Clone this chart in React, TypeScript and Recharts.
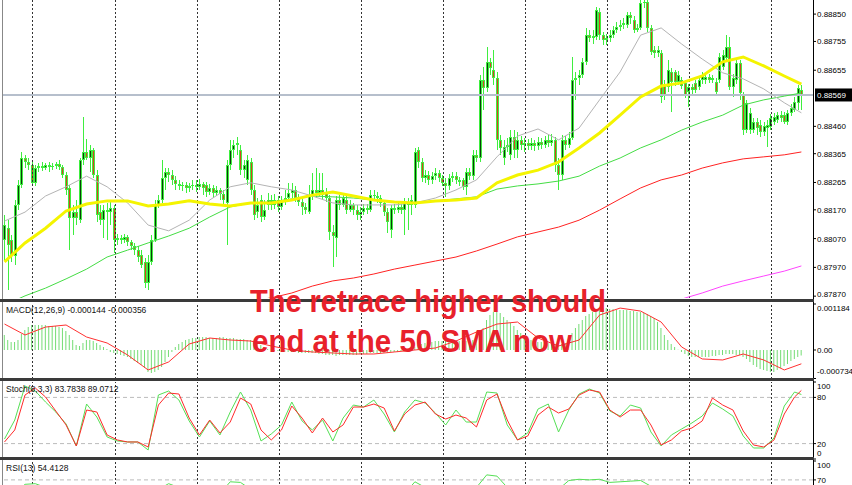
import { Bar, ComposedChart, Line, ReferenceLine, XAxis, YAxis } from "recharts"

// H1 candles, prices in points (1e-5)
const opens = [
  88065, 88106, 88065, 88009, 88187, 88257, 88350, 88336, 88326, 88264, 88315, 88322, 88315, 88326, 88319, 88322, 88329, 88319, 88291, 88246,
  88141, 88162, 88134, 88343, 88371, 88350, 88378, 88291, 88162, 88134, 88169, 88162, 88176, 88065, 88072, 88065, 88076, 88058, 88044, 88030,
  88013, 87989, 87916, 87989, 88065, 88187, 88204, 88280, 88301, 88291, 88274, 88260, 88253, 88257, 88246, 88253, 88257, 88250, 88260, 88257,
  88232, 88246, 88229, 88239, 88225, 88194, 88326, 88378, 88395, 88378, 88308, 88274, 88336, 88239, 88162, 88204, 88145, 88187, 88204, 88187,
  88204, 88180, 88204, 88211, 88229, 88239, 88211, 88197, 88180, 88162, 88221, 88239, 88229, 88239, 88232, 88211, 88093, 88072, 88204, 88187,
  88204, 88169, 88187, 88169, 88152, 88162, 88176, 88169, 88221, 88218, 88211, 88194, 88162, 88100, 88176, 88169, 88180, 88169, 88197, 88187,
  88187, 88378, 88336, 88280, 88291, 88274, 88287, 88298, 88280, 88264, 88253, 88280, 88287, 88274, 88274, 88250, 88301, 88287, 88361, 88350,
  88621, 88593, 88684, 88656, 88628, 88413, 88350, 88389, 88361, 88423, 88378, 88413, 88395, 88403, 88392, 88403, 88392, 88406, 88395, 88413,
  88403, 88413, 88326, 88291, 88413, 88395, 88419, 88621, 88628, 88638, 88684, 88777, 88767, 88771, 88857, 88777, 88760, 88767, 88777, 88795,
  88806, 88812, 88812, 88847, 88830, 88795, 88802, 88889, 88892, 88802, 88725, 88715, 88715, 88604, 88597, 88649, 88649, 88614, 88621, 88611,
  88579, 88597, 88611, 88597, 88621, 88621, 88632, 88621, 88614, 88621, 88667, 88697, 88736, 88597, 88621, 88680, 88569, 88447, 88447, 88447,
  88475, 88465, 88440, 88454, 88458, 88475, 88482, 88499, 88499, 88475, 88507, 88517, 88542, 88586,
]
const highs = [
  88152, 88134, 88083, 88204, 88274, 88371, 88361, 88350, 88343, 88326, 88333, 88336, 88333, 88336, 88333, 88336, 88343, 88326, 88301, 88257,
  88187, 88204, 88350, 88493, 88416, 88395, 88385, 88308, 88187, 88187, 88194, 88197, 88187, 88086, 88083, 88086, 88083, 88065, 88055, 88044,
  88030, 88002, 88013, 88083, 88204, 88221, 88343, 88315, 88315, 88308, 88287, 88274, 88267, 88267, 88264, 88274, 88274, 88277, 88267, 88267,
  88260, 88257, 88253, 88246, 88239, 88343, 88413, 88413, 88423, 88395, 88343, 88361, 88350, 88257, 88211, 88221, 88204, 88229, 88221, 88225,
  88218, 88218, 88239, 88264, 88264, 88253, 88225, 88211, 88194, 88257, 88298, 88315, 88298, 88298, 88246, 88221, 88117, 88218, 88221, 88225,
  88218, 88204, 88194, 88187, 88180, 88190, 88190, 88239, 88239, 88232, 88221, 88204, 88176, 88187, 88190, 88197, 88190, 88211, 88211, 88221,
  88385, 88389, 88350, 88308, 88305, 88301, 88315, 88308, 88291, 88280, 88294, 88301, 88301, 88284, 88280, 88315, 88315, 88378, 88378, 88638,
  88667, 88736, 88697, 88725, 88649, 88430, 88413, 88419, 88447, 88447, 88440, 88426, 88419, 88416, 88419, 88413, 88423, 88419, 88426, 88430,
  88433, 88423, 88350, 88430, 88426, 88440, 88701, 88649, 88656, 88697, 88802, 88795, 88795, 88875, 88871, 88788, 88781, 88795, 88809, 88823,
  88830, 88837, 88857, 88857, 88843, 88816, 88899, 88899, 88899, 88812, 88740, 88740, 88725, 88621, 88691, 88663, 88656, 88653, 88632, 88621,
  88607, 88607, 88621, 88632, 88649, 88646, 88642, 88638, 88628, 88715, 88725, 88777, 88771, 88642, 88697, 88691, 88579, 88552, 88524, 88489,
  88489, 88482, 88475, 88482, 88503, 88507, 88510, 88514, 88510, 88517, 88538, 88562, 88604, 88604,
]
const lows = [
  87996, 87891, 87989, 87979, 88169, 88246, 88315, 88308, 88257, 88253, 88301, 88305, 88308, 88301, 88308, 88312, 88308, 88280, 88221, 88030,
  88083, 88117, 88124, 88326, 88343, 88301, 88280, 88127, 88117, 88072, 88065, 88117, 88020, 88048, 88051, 88055, 88044, 88030, 88013, 87989,
  87968, 87898, 87891, 87979, 88058, 88176, 88194, 88239, 88267, 88257, 88239, 88239, 88236, 88229, 88232, 88239, 88232, 88239, 88221, 88215,
  88221, 88211, 88218, 88204, 88187, 88048, 88308, 88350, 88361, 88291, 88280, 88257, 88221, 88134, 88141, 88127, 88134, 88169, 88169, 88173,
  88162, 88169, 88187, 88197, 88211, 88197, 88183, 88152, 88155, 88155, 88204, 88211, 88218, 88204, 88197, 88065, 87972, 88006, 88169, 88180,
  88155, 88162, 88152, 88134, 88134, 88152, 88155, 88162, 88204, 88194, 88180, 88148, 88090, 88072, 88155, 88159, 88155, 88083, 88100, 88152,
  88176, 88315, 88267, 88264, 88257, 88260, 88274, 88267, 88253, 88215, 88239, 88267, 88260, 88253, 88239, 88221, 88274, 88274, 88336, 88336,
  88517, 88579, 88638, 88604, 88378, 88361, 88326, 88371, 88343, 88350, 88350, 88378, 88371, 88378, 88378, 88375, 88378, 88382, 88385, 88389,
  88392, 88301, 88239, 88274, 88378, 88385, 88413, 88552, 88604, 88628, 88673, 88753, 88746, 88760, 88760, 88743, 88743, 88753, 88767, 88785,
  88792, 88799, 88802, 88816, 88785, 88788, 88795, 88871, 88788, 88708, 88697, 88701, 88542, 88552, 88579, 88510, 88600, 88604, 88590, 88558,
  88528, 88572, 88576, 88586, 88607, 88607, 88611, 88611, 88569, 88611, 88656, 88684, 88586, 88562, 88607, 88552, 88430, 88437, 88433, 88437,
  88430, 88423, 88426, 88389, 88447, 88465, 88472, 88475, 88468, 88465, 88496, 88510, 88517, 88517,
]
const closes = [
  88117, 88048, 88009, 88187, 88257, 88350, 88336, 88326, 88264, 88315, 88322, 88315, 88326, 88319, 88322, 88329, 88319, 88291, 88239, 88141,
  88162, 88141, 88343, 88371, 88350, 88378, 88291, 88152, 88134, 88169, 88162, 88176, 88065, 88072, 88065, 88076, 88058, 88044, 88030, 88006,
  87979, 87916, 87989, 88065, 88187, 88204, 88280, 88301, 88291, 88274, 88260, 88253, 88257, 88246, 88253, 88257, 88250, 88260, 88246, 88232,
  88246, 88229, 88239, 88225, 88204, 88326, 88378, 88395, 88403, 88308, 88326, 88343, 88239, 88152, 88187, 88145, 88169, 88204, 88187, 88204,
  88180, 88204, 88211, 88229, 88239, 88211, 88197, 88180, 88169, 88221, 88239, 88229, 88239, 88221, 88211, 88093, 88079, 88204, 88187, 88211,
  88169, 88187, 88169, 88152, 88162, 88176, 88169, 88221, 88218, 88211, 88194, 88162, 88127, 88176, 88169, 88180, 88169, 88197, 88187, 88204,
  88371, 88336, 88280, 88291, 88274, 88287, 88298, 88280, 88264, 88253, 88280, 88287, 88274, 88267, 88250, 88301, 88287, 88361, 88350, 88621,
  88593, 88684, 88663, 88628, 88413, 88385, 88389, 88395, 88423, 88378, 88413, 88395, 88403, 88392, 88403, 88392, 88406, 88395, 88413, 88403,
  88413, 88326, 88291, 88413, 88395, 88419, 88621, 88628, 88638, 88684, 88777, 88767, 88774, 88864, 88777, 88760, 88767, 88777, 88795, 88806,
  88812, 88820, 88847, 88837, 88795, 88802, 88889, 88892, 88802, 88718, 88715, 88725, 88562, 88569, 88656, 88614, 88614, 88638, 88600, 88569,
  88597, 88586, 88586, 88621, 88638, 88632, 88621, 88628, 88579, 88701, 88708, 88736, 88597, 88628, 88680, 88576, 88447, 88542, 88507, 88475,
  88454, 88440, 88461, 88465, 88489, 88493, 88499, 88489, 88475, 88507, 88524, 88545, 88593, 88569,
]

// moving averages, read every 6 bars (last one on the final bar)
const maIdx = [...Array(39)].map((_, k) => k * 6).concat([233])
const sma20 = [
  88131, 88162, 88218, 88250, 88287, 88250, 88194, 88117, 88097, 88134, 88204, 88250, 88264, 88250, 88239, 88218, 88194, 88187, 88187, 88187,
  88194, 88211, 88239, 88274, 88354, 88426, 88451, 88413, 88454, 88552, 88649, 88777, 88802, 88746, 88694, 88646, 88625, 88590, 88542, 88507,
]
const sma50 = [
  87989, 88055, 88106, 88166, 88190, 88201, 88201, 88183, 88190, 88201, 88190, 88183, 88194, 88194, 88204, 88221, 88232, 88218, 88204, 88197,
  88194, 88201, 88204, 88211, 88264, 88291, 88308, 88336, 88385, 88437, 88499, 88562, 88600, 88611, 88635, 88684, 88701, 88670, 88635, 88607,
]
const sma100 = [
  87839, 87871, 87898, 87930, 87964, 88006, 88030, 88055, 88079, 88106, 88145, 88180, 88194, 88197, 88208, 88218, 88215, 88211, 88204, 88197,
  88194, 88201, 88208, 88215, 88242, 88253, 88260, 88270, 88287, 88322, 88350, 88385, 88413, 88447, 88475, 88499, 88534, 88552, 88565, 88576,
]
const sma200 = [
  null, null, null, null, null, null, null, null, null, null, null, null, 87853, 87864, 87881, 87905, 87923, 87933, 87947, 87964,
  87978, 87992, 88006, 88027, 88051, 88076, 88093, 88110, 88134, 88169, 88208, 88246, 88274, 88291, 88315, 88333, 88347, 88354, 88361, 88371,
]
const sma400 = [
  null, null, null, null, null, null, null, null, null, null, null, null, null, null, null, null, null, null, null, null,
  null, null, null, null, null, null, null, null, null, null, null, null, 87846, 87860, 87881, 87905, 87923, 87940, 87957, 87975,
]

// MACD main per bar (1e-6), signal every 6 bars
const macdMain = [
  386, 257, 206, 206, 257, 411, 514, 591, 643, 643, 643, 643, 643, 617, 617, 617, 591, 565, 488, 386,
  257, 129, 103, 180, 257, 257, 231, 180, 129, 77, 26, -51, -77, -103, -129, -154, -180, -231, -283, -334,
  -386, -463, -565, -591, -565, -514, -437, -308, -180, -51, 77, 154, 206, 257, 283, 308, 308, 334, 334, 334,
  308, 308, 308, 334, 334, 308, 308, 308, 283, 283, 283, 257, 257, 231, 180, 129, 77, 26, 5, -26,
  -26, -26, -51, -51, -51, -51, -77, -77, -77, -77, -77, -77, -103, -103, -129, -129, -129, -154, -129, -129,
  -129, -129, -129, -129, -103, -103, -103, -77, -77, -77, -77, -77, -77, -51, -51, -51, -26, -26, -26, 5,
  77, 129, 154, 180, 206, 206, 231, 231, 231, 231, 231, 231, 231, 231, 231, 231, 231, 257, 257, 386,
  565, 771, 900, 977, 977, 951, 848, 771, 694, 617, 514, 437, 360, 308, 257, 231, 206, 206, 180, 180,
  154, 154, 129, 154, 180, 257, 437, 565, 668, 771, 874, 925, 977, 1028, 1054, 1079, 1079, 1054, 1054, 1028,
  1028, 1028, 1028, 1002, 1002, 977, 977, 951, 925, 874, 822, 720, 565, 386, 257, 154, 77, 5, -51, -103,
  -154, -180, -180, -180, -180, -180, -180, -154, -154, -129, -129, -103, -103, -103, -129, -129, -180, -231, -308, -386,
  -437, -488, -514, -540, -565, -565, -514, -463, -411, -360, -283, -231, -180, -144,
]
const macdSignal = [
  668, 386, 591, 643, 334, 180, -129, -514, -308, 154, 308, 257, 231, 103, 0, -51, -77, -103, -103, -51,
  0, 51, 231, 463, 668, 720, 308, 103, 257, 900, 1079, 1002, 720, 77, -231, -257, -103, -257, -514, -356,
]

// oscillators, read every 3 bars (last one on the final bar)
const oscIdx = [...Array(78)].map((_, k) => k * 3).concat([233])
const stochK = [
  26, 50.6, 94.8, 88.3, 74, 61, 45.5, 16.9, 71.4, 54.5, 28.6, 23.4, 22.1, 22.1, 11.7, 83.1, 88.3, 76.6, 49.4, 28.6,
  49.4, 31.2, 61, 87, 63.6, 23.4, 32.5, 44.2, 74, 49.4, 37.7, 50.6, 23.4, 53.2, 70.1, 67.5, 76.6, 58.4, 35.1, 61,
  76.6, 72.7, 59.7, 44.2, 63.6, 48, 48, 87, 85.7, 44.2, 24.7, 33.8, 64.9, 71.4, 35.1, 63.6, 84.4, 90.9, 85.7, 62.3,
  55.8, 70.1, 66.2, 35.1, 16.9, 31.2, 39, 46.8, 55.8, 72.7, 64.9, 55.8, 29.9, 14.3, 14.3, 27.3, 68.8, 87, 83.7838,
]
const stochD = [
  22.1, 37.7, 83.1, 92.2, 80.5, 62.3, 44.2, 16.9, 63.6, 61, 31.2, 24.7, 22.1, 22.1, 15.6, 70.1, 85.7, 84.4, 53.2, 31.2,
  50.6, 33.8, 48, 79.2, 71.4, 37.7, 24.7, 37.7, 68.8, 53.2, 33.8, 53.2, 35.1, 44.2, 67.5, 67.5, 71.4, 66.2, 36.4, 58.4,
  70.1, 74, 58.4, 51.9, 57.1, 53.2, 41.6, 76.6, 84.4, 50.6, 24.7, 29.9, 57.1, 67.5, 59.7, 64.9, 83.1, 89.6, 87, 63.6,
  54.5, 63.6, 63.6, 44.2, 18.2, 24.7, 36.4, 40.3, 49.4, 79.2, 70.1, 63.6, 36.4, 18.2, 15.6, 24.7, 58.4, 80.5, 89.0712,
]
const rsi = [
  40, 48, 63, 64, 58, 57, 50, 42, 60, 55, 45, 42, 40, 37, 33, 55, 64, 58, 52, 50,
  50, 48, 67, 66, 55, 44, 47, 48, 52, 48, 50, 52, 44, 50, 49, 47, 52, 46, 45, 48,
  67, 58, 56, 53, 55, 54, 58, 78, 76, 58, 60, 59, 59, 60, 55, 69, 71, 70, 71, 66,
  67, 68, 69, 60, 45, 50, 48, 47, 49, 53, 55, 50, 40, 37, 39, 42, 47, 51, 54.4128,
]

// axis labels
const mainTicks = [0.8885, 0.88755, 0.88655, 0.8846, 0.88365, 0.88265, 0.8817, 0.8807, 0.8797, 0.8787]
const macdTicks = [0.001184, 0, -0.000734]
const stochTicks = [100, 80, 20, 0]
const rsiTicks = [100, 70]
const dayTicks = [8.33, 32.33, 56.33, 80.33, 104.33, 128.33, 152.33, 176.33, 200.33, 224.33]

const W = 852
const X_DOMAIN = [-0.44, 236.4]
const FONT = "Liberation Sans, Arial, sans-serif"
const WICK = "#3fee3f"

const rows: any[] = opens.map((o, i) => ({
  i,
  open: o / 1e5,
  high: highs[i] / 1e5,
  low: lows[i] / 1e5,
  close: closes[i] / 1e5,
  range: [lows[i] / 1e5, highs[i] / 1e5],
  macd: macdMain[i] / 1e6,
}))
maIdx.forEach((idx, k) => {
  Object.assign(rows[idx], {
    sma20: sma20[k] / 1e5,
    sma50: sma50[k] / 1e5,
    sma100: sma100[k] / 1e5,
    sma200: sma200[k] == null ? null : sma200[k]! / 1e5,
    sma400: sma400[k] == null ? null : sma400[k]! / 1e5,
    signal: macdSignal[k] / 1e6,
  })
})
oscIdx.forEach((idx, k) => {
  Object.assign(rows[idx], { stK: stochK[k], stD: stochD[k], rsi: rsi[k] })
})
const lastClose = closes[closes.length - 1] / 1e5

function Candle(props: any) {
  const { x, y, width, height, payload } = props
  if (x == null || y == null) return null
  const cx = Math.round(x + width / 2)
  const span = payload.high - payload.low
  const k = span > 0 ? height / span : 0
  const top = Math.round(y + (payload.high - Math.max(payload.open, payload.close)) * k)
  const bot = Math.round(y + (payload.high - Math.min(payload.open, payload.close)) * k)
  const bull = payload.close >= payload.open
  const bh = Math.max(1, bot - top)
  return (
    <g shapeRendering="crispEdges">
      <rect x={cx} y={y} width={1} height={Math.max(1, height)} fill={WICK} />
      <rect x={cx - 1} y={top} width={3} height={bh} fill={WICK} />
      {bh > 2 && <rect x={cx} y={top + 1} width={1} height={bh - 2} fill={bull ? "#0b3d0b" : "#d2451f"} />}
    </g>
  )
}

function PriceTag(props: any) {
  const vb = props.viewBox || {}
  if (vb.x == null) return null
  const x = vb.x + vb.width
  return (
    <g>
      <rect x={x + 2} y={vb.y - 6.5} width={37} height={13} fill="#000" />
      <text x={x + 4} y={vb.y + 3} fontSize={8} fontFamily={FONT} fill="#fff">
        {props.text}
      </text>
    </g>
  )
}

const makeTick = (fmt: (v: number) => string, top: number, bottom: number) => (p: any) => {
  const yy = Math.min(Math.max(p.y, top + 4), bottom - 6)
  return (
    <text x={p.x - 1} y={yy + 3} fontSize={8} fontFamily={FONT} fill="#000">
      {fmt(p.payload.value)}
    </text>
  )
}

function dayLines() {
  return dayTicks.map((t) => (
    <ReferenceLine key={t} x={t} stroke="#333" strokeDasharray="2 2" shapeRendering="crispEdges" />
  ))
}

const yAxisBase = {
  orientation: "right" as const,
  width: 39,
  type: "number" as const,
  interval: 0 as const,
  allowDataOverflow: true,
  axisLine: false,
  tickSize: 3,
  tickLine: { stroke: "#000" },
}

export default function App() {
  return (
    <div style={{ position: "absolute", left: 0, top: 0, width: W, height: 485, overflow: "hidden", background: "#fff" }}>
      <div style={{ position: "absolute", left: 0, top: 0 }}>
        <ComposedChart width={W} height={299} data={rows} margin={{ top: 0, right: 0, bottom: 1, left: 3 }}>
          <XAxis type="number" dataKey="i" domain={X_DOMAIN} hide allowDataOverflow />
          <YAxis {...yAxisBase} domain={[0.878636, 0.88899]} ticks={mainTicks} tick={makeTick((v) => v.toFixed(5), -10, 300)} />
          {dayLines()}
          <ReferenceLine y={lastClose} stroke="#b6bfcc" strokeWidth={2} label={<PriceTag text={lastClose.toFixed(5)} />} />
          <Line dataKey="sma400" stroke="#ff44ff" strokeWidth={1} dot={false} connectNulls isAnimationActive={false} />
          <Line dataKey="sma200" stroke="#ff2222" strokeWidth={1} dot={false} connectNulls isAnimationActive={false} />
          <Line dataKey="sma100" stroke="#44dd44" strokeWidth={1} dot={false} connectNulls isAnimationActive={false} />
          <Line dataKey="sma20" stroke="#b4b4b4" strokeWidth={1} dot={false} connectNulls isAnimationActive={false} />
          <Line dataKey="sma50" stroke="#f4f400" strokeWidth={3} dot={false} connectNulls isAnimationActive={false} />
          <Bar dataKey="range" barSize={3} shape={<Candle />} isAnimationActive={false} />
        </ComposedChart>
      </div>

      <div style={{ position: "absolute", left: 0, top: 300 }}>
        <ComposedChart width={W} height={80} data={rows} margin={{ top: 4, right: 0, bottom: 1.5, left: 3 }}>
          <XAxis type="number" dataKey="i" domain={X_DOMAIN} hide allowDataOverflow />
          <YAxis
            {...yAxisBase}
            domain={[-0.000734, 0.001184]}
            ticks={macdTicks}
            tick={makeTick((v) => (v === 0 ? "0.00" : v.toFixed(6)), 4, 77)}
          />
          {dayLines()}
          <Bar dataKey="macd" barSize={1} fill="#74dc74" isAnimationActive={false} />
          <Line dataKey="signal" stroke="#ff3030" strokeWidth={1} dot={false} connectNulls isAnimationActive={false} />
        </ComposedChart>
      </div>

      <div style={{ position: "absolute", left: 0, top: 379 }}>
        <ComposedChart width={W} height={81} data={rows} margin={{ top: 3, right: 0, bottom: 1, left: 3 }}>
          <XAxis type="number" dataKey="i" domain={X_DOMAIN} hide allowDataOverflow />
          <YAxis {...yAxisBase} domain={[0, 100]} ticks={stochTicks} tick={makeTick((v) => String(v), 3, 80)} />
          {dayLines()}
          <ReferenceLine y={80} stroke="#bbb" strokeDasharray="4 3" />
          <ReferenceLine y={20} stroke="#bbb" strokeDasharray="4 3" />
          <Line dataKey="stK" stroke="#55e055" strokeWidth={1} dot={false} connectNulls isAnimationActive={false} />
          <Line dataKey="stD" stroke="#ff2a2a" strokeWidth={1} dot={false} connectNulls isAnimationActive={false} />
        </ComposedChart>
      </div>

      <div style={{ position: "absolute", left: 0, top: 459 }}>
        <ComposedChart width={W} height={70} data={rows} margin={{ top: 2, right: 0, bottom: 5, left: 3 }}>
          <XAxis type="number" dataKey="i" domain={X_DOMAIN} hide allowDataOverflow />
          <YAxis {...yAxisBase} domain={[0, 100]} ticks={rsiTicks} tick={makeTick((v) => String(v), 2, 65)} />
          {dayLines()}
          <ReferenceLine y={70} stroke="#bbb" strokeDasharray="4 3" />
          <Line dataKey="rsi" stroke="#55e055" strokeWidth={1} dot={false} connectNulls isAnimationActive={false} />
        </ComposedChart>
      </div>

      {/* window frames */}
      <div style={{ position: "absolute", left: 2, top: 0, width: 1, height: 485, background: "#888" }} />
      <div style={{ position: "absolute", left: 813, top: 0, width: 1, height: 485, background: "#000" }} />
      <div style={{ position: "absolute", left: 0, top: 299, width: 814, height: 3, background: "#3a3a3a" }} />
      <div style={{ position: "absolute", left: 0, top: 378, width: 814, height: 3, background: "#3a3a3a" }} />
      <div style={{ position: "absolute", left: 0, top: 457, width: 814, height: 3, background: "#3a3a3a" }} />

      <svg width={W} height={485} style={{ position: "absolute", left: 0, top: 0, pointerEvents: "none" }}>
        <g fontFamily={FONT} fontSize={8.5} fill="#111">
          <text x={6} y={313}>MACD(12,26,9) -0.000144 -0.000356</text>
          <text x={6} y={392}>Stoch(8,3,3) 83.7838 89.0712</text>
          <text x={6} y={471}>RSI(13) 54.4128</text>
        </g>
        <g fontFamily={FONT} fontWeight="bold" fontSize={32} fill="#e8212b">
          <text x={250} y={312} textLength={356} lengthAdjust="spacingAndGlyphs">The retrace higher should</text>
          <text x={252} y={352} textLength={320} lengthAdjust="spacingAndGlyphs">end at the 50 SMA now</text>
        </g>
      </svg>
    </div>
  )
}
